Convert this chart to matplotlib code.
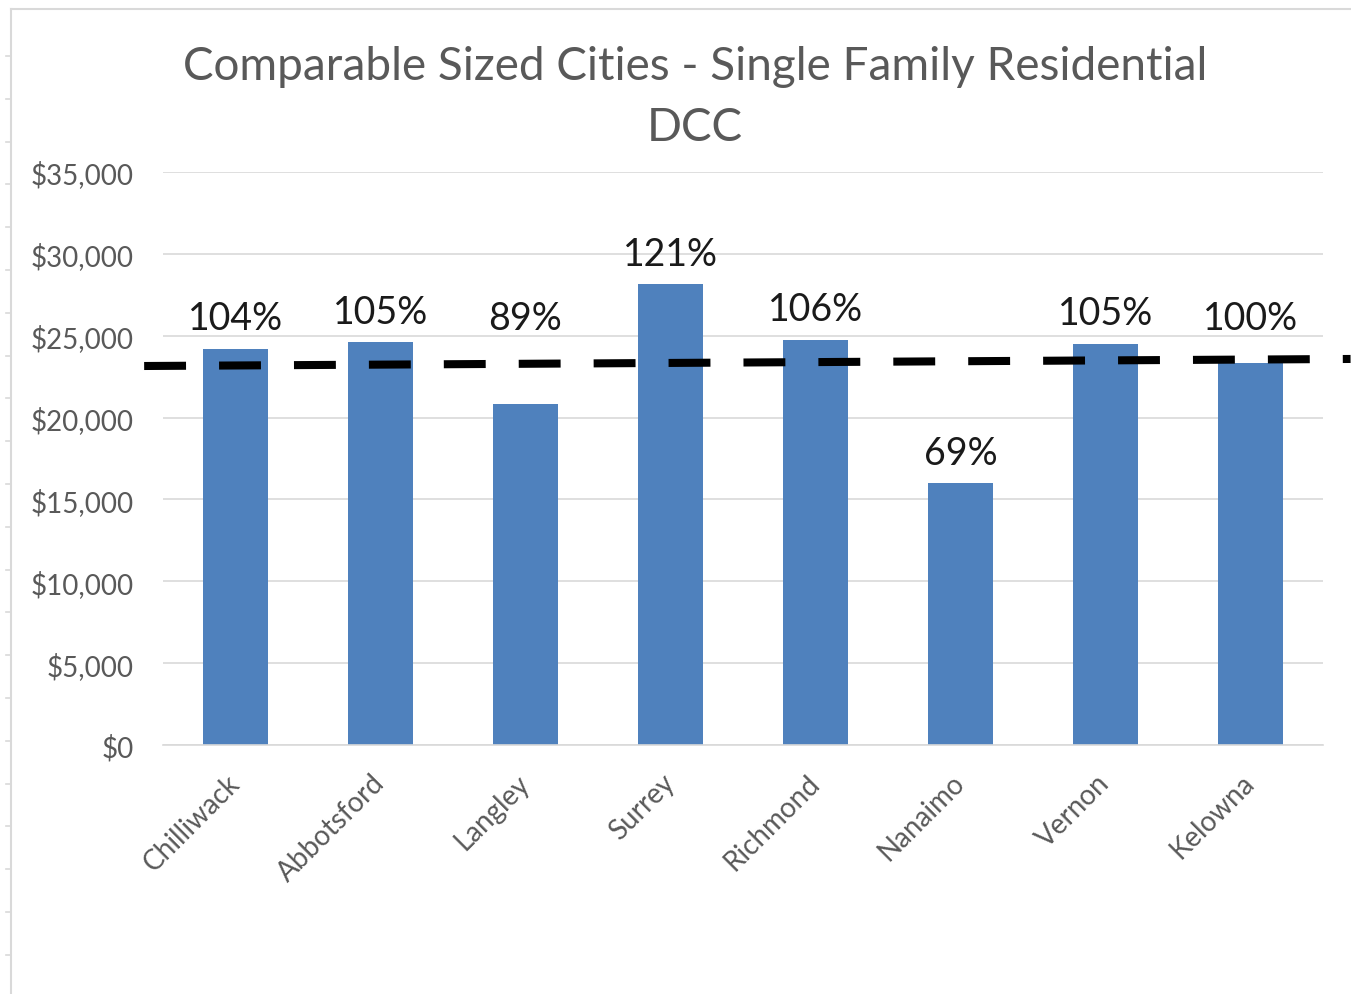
import numpy as np
import matplotlib
matplotlib.use("Agg")
import matplotlib.pyplot as plt
from matplotlib.lines import Line2D
from matplotlib.ticker import FuncFormatter

plt.rcParams['font.family'] = ['Lato', 'DejaVu Sans']

cities = ['Chilliwack', 'Abbotsford', 'Langley', 'Surrey', 'Richmond', 'Nanaimo', 'Vernon', 'Kelowna']
dcc = [24200, 24600, 20800, 28150, 24750, 16000, 24500, 23350]
pct_labels = ['104%', '105%', '89%', '121%', '106%', '69%', '105%', '100%']
# dashed reference line (drawn shape, slightly sloped in the original)
ref_x = [-0.63, 7.69]
ref_y = [23150, 23580]

grey = '#595959'
bar_color = '#4F81BD'

fig = plt.figure(figsize=(13.51, 9.95), dpi=100)
ax = fig.add_axes([163 / 1351, 1 - 746 / 995, 1160 / 1351, 573 / 995])

x = np.arange(len(cities))
ax.bar(x, dcc, width=0.455, color=bar_color, zorder=2)

# labels sit above the bar, lifted over the dashed line if they would hit it
line_level = np.mean(ref_y)
for xi, v, lab in zip(x, dcc, pct_labels):
    y = v
    if v < line_level < v + 3000:
        y = 24200
    ax.annotate(lab, (xi, y), xytext=(0, 9), textcoords='offset points',
                ha='center', va='bottom', fontsize=27, color='#1a1a1a')

ax.plot(ref_x, ref_y, color='black', lw=5.8, dashes=(5.2, 4.1),
        dash_capstyle='butt', clip_on=False, zorder=3)

ax.set_xlim(-0.5, 7.5)
ax.set_ylim(0, 35000)
ax.set_yticks(np.arange(0, 35001, 5000))
ax.yaxis.set_major_formatter(FuncFormatter(lambda v, p: f'${v:,.0f}'))
ax.set_xticks(x)
ax.set_xticklabels(cities, rotation=45, ha='right', va='center', rotation_mode='anchor')
ax.tick_params(axis='both', length=0, labelsize=20, labelcolor=grey)
ax.tick_params(axis='y', pad=21)
ax.tick_params(axis='x', pad=24)

ax.grid(axis='y', color='#d9d9d9', lw=1.2, zorder=0)
ax.set_axisbelow(True)
for s in ['top', 'right', 'left']:
    ax.spines[s].set_visible(False)
ax.spines['bottom'].set_color('#d9d9d9')
ax.spines['bottom'].set_linewidth(1.2)

fig.text(695 / 1351, 1 - 67 / 995, 'Comparable Sized Cities - Single Family Residential',
         ha='center', va='center', fontsize=33, color=grey)
fig.text(695 / 1351, 1 - 128 / 995, 'DCC', ha='center', va='center', fontsize=33, color=grey)

# sheet border and row markers from the screenshot
fig.add_artist(Line2D([11 / 1351, 11 / 1351], [0, 1 - 10 / 995], color='#d9d9d9', lw=1.5))
fig.add_artist(Line2D([11 / 1351, 1], [1 - 10 / 995, 1 - 10 / 995], color='#d9d9d9', lw=1.5))
for yy in np.arange(57, 995, 42.8):
    fig.add_artist(Line2D([6 / 1351, 11 / 1351], [1 - yy / 995, 1 - yy / 995], color='#d9d9d9', lw=1.2))

fig.savefig('out.png', dpi=100)
